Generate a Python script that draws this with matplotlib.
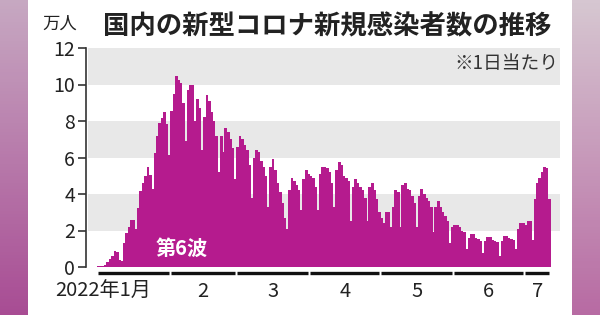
import numpy as np
import matplotlib
matplotlib.use("Agg")
import matplotlib.pyplot as plt
from matplotlib.transforms import blended_transform_factory

plt.rcParams['font.family'] = ['Noto Sans CJK JP', 'DejaVu Sans']

# ---- data (万人, daily, 2022-01-01 .. 2022-07-11) ----
jan = [0.05, 0.06, 0.08, 0.13, 0.26, 0.45, 0.62, 0.85, 0.82, 0.40, 0.35, 1.32, 1.89, 2.20, 2.57, 2.57,
       2.10, 3.22, 4.15, 4.62, 4.99, 5.46, 5.02, 4.30, 6.26, 7.16, 7.89, 8.18, 8.49, 7.81, 6.12]
feb = [8.55, 9.49, 10.45, 10.22, 10.09, 9.01, 6.9, 9.7, 9.95, 10.0, 8.0, 9.2, 8.7, 6.4,
       8.2, 9.4, 9.1, 8.5, 8.0, 7.2, 5.2, 7.2, 6.3, 7.6, 7.4, 7.0, 6.5, 4.8]
mar = [6.6, 7.2, 7.0, 6.7, 6.4, 5.6, 3.8, 6.0, 6.4, 6.3, 5.8, 5.5, 5.0, 3.3, 5.5, 5.9,
       5.3, 4.6, 4.1, 3.5, 2.7, 2.1, 4.2, 4.9, 4.7, 4.5, 4.2, 3.1, 4.8, 5.3, 5.1]
apr = [5.0, 4.9, 4.4, 3.1, 5.1, 5.5, 5.5, 5.4, 5.2, 4.6, 3.3, 5.3, 5.75, 5.6, 5.0,
       4.9, 4.7, 2.5, 4.4, 4.8, 4.6, 4.4, 4.2, 3.8, 2.5, 4.4, 4.6, 4.2, 3.7, 3.0]
may = [2.7, 2.4, 3.0, 3.0, 2.2, 3.3, 4.2, 4.1, 2.2, 4.5, 4.6, 4.3, 4.2, 3.9, 3.5, 2.2,
       3.9, 4.3, 4.0, 3.8, 3.6, 3.3, 1.9, 3.3, 3.6, 3.3, 3.0, 2.8, 2.5, 1.3, 2.2]
jun = [2.3, 2.3, 2.2, 2.0, 1.9, 1.0, 1.6, 1.8, 1.8, 1.6, 1.55, 1.45, 0.75, 1.45, 1.65,
       1.65, 1.5, 1.4, 1.35, 0.6, 1.45, 1.7, 1.7, 1.6, 1.55, 1.5, 1.0, 2.1, 2.4, 2.4]
jul = [2.3, 2.5, 2.5, 1.5, 3.7, 4.6, 4.9, 5.2, 5.5, 5.4, 3.7]

month_lengths = [31, 28, 31, 30, 31, 30, 11]
month_labels = ["2022年1月", "2", "3", "4", "5", "6", "7"]
yticks = [0, 2, 4, 6, 8, 10, 12]

values = np.array(jan + feb + mar + apr + may + jun + jul)
days = np.arange(len(values))

W, H = 600, 315
fig = plt.figure(figsize=(6, 3.15), dpi=100)

# background gradient strips
bg = fig.add_axes([0, 0, 1, 1])
bg.axis('off')
t = np.linspace(0, 1, 100)[:, None]
top = np.array([0.78, 0.66, 0.76])
bot = np.array([0.66, 0.30, 0.58])
grad = (top[None, None, :] * (1 - t[..., None]) + bot[None, None, :] * t[..., None])
grad = np.repeat(grad, 2, axis=1)
bg.imshow(grad, extent=[0, 28, H, 0], aspect='auto')
top2 = np.array([0.84, 0.78, 0.82])
bot2 = np.array([0.72, 0.42, 0.64])
grad2 = (top2[None, None, :] * (1 - t[..., None]) + bot2[None, None, :] * t[..., None])
grad2 = np.repeat(grad2, 2, axis=1)
bg.imshow(grad2, extent=[572, W, H, 0], aspect='auto')
bg.set_xlim(0, W)
bg.set_ylim(H, 0)

# main axes
px_per_day = 2.36
x0 = 97
ax_l, ax_r, ax_t, ax_b = 86, 560, 48, 267
ax = fig.add_axes([ax_l / W, 1 - ax_b / H, (ax_r - ax_l) / W, (ax_b - ax_t) / H])
ax.set_xlim((ax_l - x0) / px_per_day, (ax_r - x0) / px_per_day)
ax.set_ylim(0, 12)
ax.patch.set_alpha(0)

for lo in (2, 6, 10):
    ax.axhspan(lo, lo + 2, xmin=0.005, xmax=1, color='#e8e8e8', lw=0, zorder=0)

bar_color = '#b51b8e'
ax.bar(days, values, width=1.2, align='edge', color=bar_color, lw=0, zorder=2)

for s in ('top', 'right', 'bottom'):
    ax.spines[s].set_visible(False)
ax.spines['left'].set_linewidth(1.2)
ax.spines['left'].set_color('#333333')
ax.set_yticks(yticks)
ax.set_yticklabels([str(v) for v in yticks])
ax.tick_params(axis='y', length=6, width=1.2, color='#333333', pad=2,
               labelsize=14, labelcolor='#222222')
ax.set_xticks([])

# month underline segments and labels
trans = blended_transform_factory(ax.transData, ax.transAxes)
start = 0
for i, (n, lab) in enumerate(zip(month_lengths, month_labels)):
    end = start + n
    ax.plot([start + 0.3, end - 0.6], [-0.027, -0.027], transform=trans, color='#111111',
            lw=2.4, solid_capstyle='butt', clip_on=False)
    if i == 0:
        ax.text(start + n / 2 + 7.5, -0.11, lab, transform=trans, ha='right', va='center',
                fontsize=14.5, color='#222222')
    else:
        ax.text(start + n / 2, -0.11, lab, transform=trans, ha='center', va='center',
                fontsize=14.5, color='#222222')
    start = end

ax.text(36, 0.085, "第6波", transform=trans, ha='center', va='center', fontsize=14.5,
        color='white', fontweight='bold')

# texts
fig.text(103 / W, 1 - 27 / H, "国内の新型コロナ新規感染者数の推移", ha='left', va='center',
         fontsize=19, fontweight='bold', color='#222222')
fig.text(60 / W, 1 - 24 / H, "万人", ha='center', va='center', fontsize=12.5, color='#222222')
fig.text(558 / W, 1 - 64 / H, "※1日当たり", ha='right', va='center', fontsize=13.5,
         color='#333333')

fig.savefig("out.png", dpi=100)
